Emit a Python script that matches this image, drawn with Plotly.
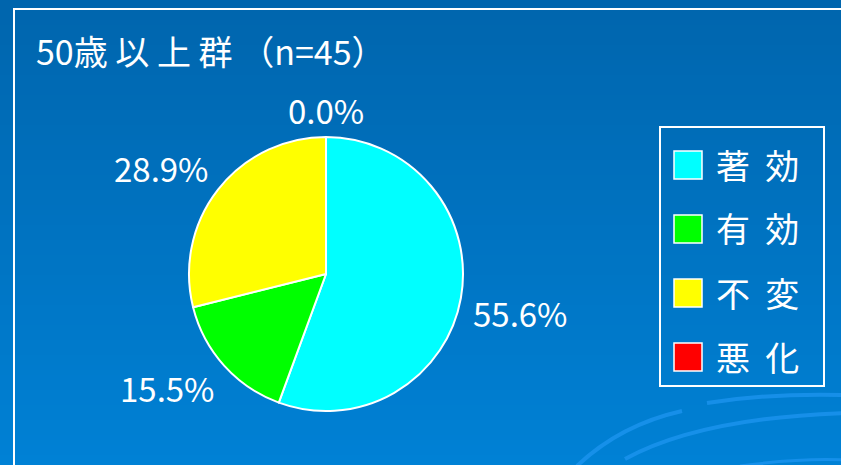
import math
import plotly.graph_objects as go

# ---- data ----
categories = ["著効", "有効", "不変", "悪化"]
legend_texts = ["著\u00a0\u00a0効", "有\u00a0\u00a0効", "不\u00a0\u00a0変", "悪\u00a0\u00a0化"]
values = [55.6, 15.5, 28.9, 0.0]
colors = ["#00FFFF", "#00FF00", "#FFFF00", "#FF0000"]
title_text = "50歳\u00a0以\u00a0上\u00a0群\u00a0（n=45）"

# ---- layout geometry (pixels) ----
W, H = 841, 465
CX, CY, R = 326, 274, 137
FONT = "Noto Sans CJK JP"


def px(x):
    return x / W


def py(y):
    return 1 - y / H


fig = go.Figure()
fig.add_trace(go.Pie(
    labels=categories, values=values, sort=False, direction="clockwise",
    rotation=0, marker=dict(colors=colors, line=dict(color="white", width=2)),
    textinfo="none", hoverinfo="label+percent", showlegend=False,
    domain=dict(x=[px(CX - R), px(CX + R)], y=[py(CY + R), py(CY - R)]),
))

shapes = []
# background gradient bands
top_c = (0, 101, 173)
bot_c = (0, 129, 213)
N = 93
for i in range(N):
    t = i / (N - 1)
    c = tuple(round(top_c[k] + (bot_c[k] - top_c[k]) * t) for k in range(3))
    shapes.append(dict(type="rect", xref="paper", yref="paper",
                       x0=0, x1=1, y0=py((i + 1) * H / N + 0.5), y1=py(i * H / N),
                       fillcolor="rgb(%d,%d,%d)" % c, line=dict(width=0), layer="below"))

# decorative arcs (bottom right)
arc_col = "rgba(30,150,240,0.75)"
def path_pts(p0, p1, p2):
    return "M %f %f Q %f %f %f %f" % (px(p0[0]), py(p0[1]), px(p1[0]), py(p1[1]), px(p2[0]), py(p2[1]))
for (p0, p1, p2, w) in [
    ((577, 466), (620, 425), (682, 411), 4),
    ((707, 403), (770, 393), (845, 395), 4),
    ((625, 459), (700, 418), (845, 413), 4),
    ((740, 466), (800, 458), (845, 460), 3),
]:
    shapes.append(dict(type="path", xref="paper", yref="paper", path=path_pts(p0, p1, p2),
                       line=dict(color=arc_col, width=w), layer="below"))

# white frame
shapes.append(dict(type="rect", xref="paper", yref="paper",
                   x0=px(14), x1=px(870), y0=py(490), y1=py(9),
                   line=dict(color="white", width=2), fillcolor="rgba(0,0,0,0)"))

# legend box
LX0, LX1, LY0, LY1 = 660, 824, 127, 386
shapes.append(dict(type="rect", xref="paper", yref="paper",
                   x0=px(LX0), x1=px(LX1), y0=py(LY1), y1=py(LY0),
                   line=dict(color="white", width=2), fillcolor="rgba(0,0,0,0)"))

annotations = []
row_y0, row_dy, sw = 165, 64, 28
for i, (txt, col) in enumerate(zip(legend_texts, colors)):
    yc = row_y0 + i * row_dy
    shapes.append(dict(type="rect", xref="paper", yref="paper",
                       x0=px(674), x1=px(674 + sw), y0=py(yc + sw / 2), y1=py(yc - sw / 2),
                       fillcolor=col, line=dict(color="white", width=1.5)))
    annotations.append(dict(text=txt, x=px(714), y=py(yc - 1), xref="paper", yref="paper",
                            xanchor="left", yanchor="middle", showarrow=False,
                            font=dict(family=FONT, size=34, color="white")))

# title
annotations.append(dict(text=title_text, x=px(34), y=py(50), xref="paper", yref="paper",
                        xanchor="left", yanchor="middle", showarrow=False,
                        font=dict(family=FONT, size=34, color="white")))

# percentage labels, positioned from slice mid-angles
total = sum(values)
cum = 0.0
GAP, LW, LH = 15, 90, 25
for v in values:
    mid = (cum + v / 2) / total * 2 * math.pi
    cum += v
    dx, dy = math.sin(mid), -math.cos(mid)
    sx = 0 if abs(dx) < 1e-6 else math.copysign(1, dx)
    sy = 0 if abs(dy) < 1e-6 else math.copysign(1, dy)
    lx = CX + dx * (R + GAP) + sx * LW / 2
    ly = CY + dy * (R + GAP) + sy * LH / 2 + dy * abs(dx) * 0 
    annotations.append(dict(text="%.1f%%" % (v / total * 100), x=px(lx), y=py(ly),
                            xref="paper", yref="paper", xanchor="center", yanchor="middle",
                            showarrow=False, font=dict(family=FONT, size=33, color="white")))

fig.update_layout(width=W, height=H, margin=dict(l=0, r=0, t=0, b=0),
                  paper_bgcolor="rgb(0,115,192)", plot_bgcolor="rgba(0,0,0,0)",
                  shapes=shapes, annotations=annotations, showlegend=False)
fig.write_html("out.html")
